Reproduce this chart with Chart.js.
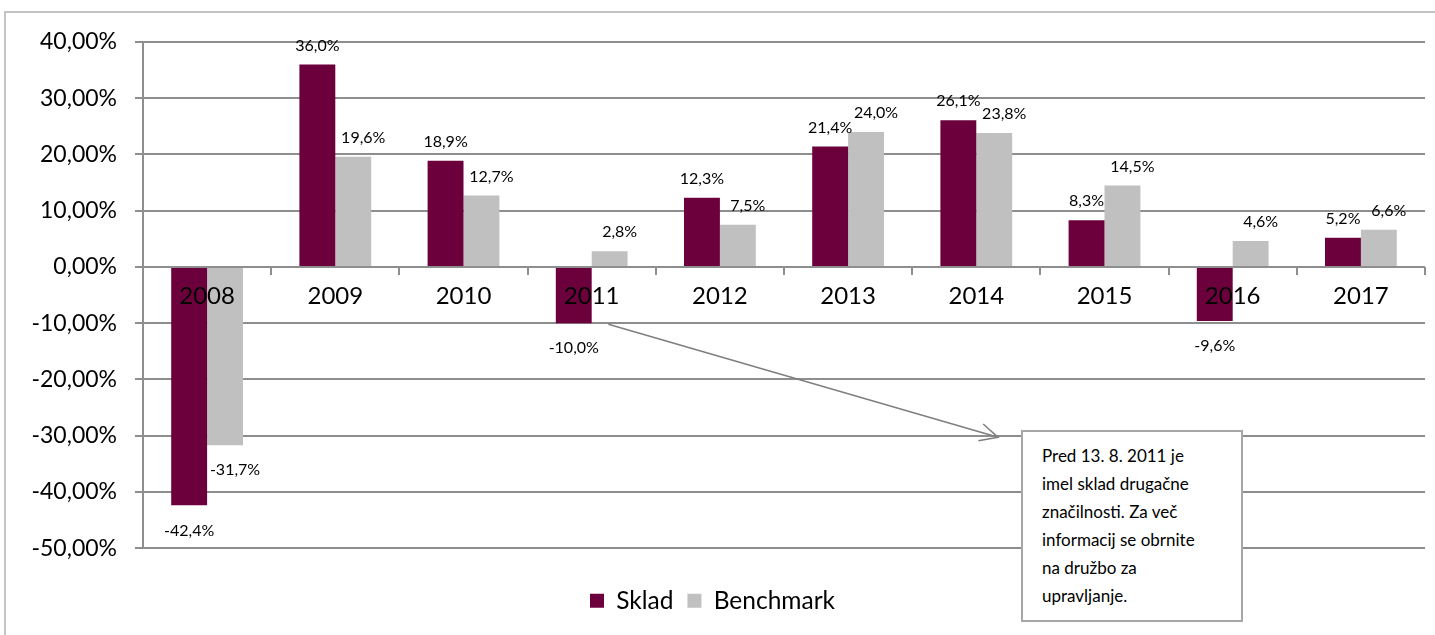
<!DOCTYPE html>
<html>
<head>
<meta charset="utf-8">
<script src="https://cdn.jsdelivr.net/npm/chart.js"></script>
<style>
  html, body { margin: 0; padding: 0; background: #fff; overflow: hidden; }
  #frame { position: absolute; left: 4px; top: 11px; width: 1440px; height: 640px; border: 2px solid #c4c4c4; }
  #wrap { position: absolute; left: 0; top: 0; width: 1435px; height: 635px; }
  #note {
    position: absolute; left: 1021px; top: 430px; width: 179px; height: 168px;
    border: 2px solid #a6a6a6; background: #fff;
    padding: 10px 20px 10px 19px;
    font-family: Lato, sans-serif; font-size: 17px; line-height: 28px; color: #000;
  }
</style>
</head>
<body>
<div id="frame"></div>
<div id="wrap"><canvas id="myChart" width="1435" height="635"></canvas></div>
<div id="note">Pred 13. 8. 2011 je<br>imel sklad drugačne<br>značilnosti. Za več<br>informacij se obrnite<br>na družbo za<br>upravljanje.</div>
<script>
const years = ["2008", "2009", "2010", "2011", "2012", "2013", "2014", "2015", "2016", "2017"];
const skladReturns = [-42.4, 36.0, 18.9, -10.0, 12.3, 21.4, 26.1, 8.3, -9.6, 5.2];
const benchmarkReturns = [-31.7, 19.6, 12.7, 2.8, 7.5, 24.0, 23.8, 14.5, 4.6, 6.6];
const yMin = -50;
const yMax = 40;
const yStep = 10;

const gridColor = "#8e8e8e";

// value labels above / below each bar
const barLabels = {
  id: "barLabels",
  afterDatasetsDraw(chart) {
    const c = chart.ctx;
    c.save();
    c.font = "16px Lato";
    c.fillStyle = "#000";
    c.textAlign = "center";
    c.textBaseline = "middle";
    chart.data.datasets.forEach((ds, di) => {
      chart.getDatasetMeta(di).data.forEach((bar, i) => {
        const v = ds.data[i];
        const txt = v.toFixed(1).replace(".", ",") + "%";
        const dx = di === 1 ? 10 : 0;
        const y = v >= 0 ? bar.y - 19 : bar.y + 25;
        c.fillText(txt, bar.x + dx, y);
      });
    });
    c.restore();
  }
};

// arrow pointing from the 2011 bar to the note
const noteArrow = {
  id: "noteArrow",
  afterDraw(chart) {
    const xs = chart.scales.x, ys = chart.scales.y;
    const x1 = xs.getPixelForValue(3.13), y1 = ys.getPixelForValue(-10.2);
    const x2 = xs.getPixelForValue(6.17), y2 = ys.getPixelForValue(-30.3);
    const a = Math.atan2(y2 - y1, x2 - x1);
    const c = chart.ctx;
    c.save();
    c.strokeStyle = "#7f7f7f";
    c.lineWidth = 1.5;
    c.beginPath();
    c.moveTo(x1, y1);
    c.lineTo(x2, y2);
    c.moveTo(x2 - 20 * Math.cos(a - 0.45), y2 - 20 * Math.sin(a - 0.45));
    c.lineTo(x2, y2);
    c.lineTo(x2 - 20 * Math.cos(a + 0.45), y2 - 20 * Math.sin(a + 0.45));
    c.stroke();
    c.restore();
  }
};

const ctx = document.getElementById("myChart");
new Chart(ctx, {
  type: "bar",
  data: {
    labels: years,
    datasets: [
      { label: "Sklad", data: skladReturns, backgroundColor: "#6b003c" },
      { label: "Benchmark", data: benchmarkReturns, backgroundColor: "#c0c0c0" },
    ],
  },
  options: {
    responsive: false,
    animation: false,
    barPercentage: 1,
    categoryPercentage: 0.56,
    layout: { padding: { left: 0, right: 10, top: 42, bottom: 12 } },
    scales: {
      x: {
        position: { y: 0 },
        grid: {
          offset: true,
          drawOnChartArea: false,
          drawTicks: true,
          tickLength: 8,
          color: gridColor,
          lineWidth: 2,
        },
        border: { display: false },
        ticks: { z: 1, font: { family: "Lato", size: 24 }, color: "#000", padding: 7 },
      },
      y: {
        min: yMin,
        max: yMax,
        afterFit(scale) { scale.width = 143; },
        grid: { color: gridColor, lineWidth: 2, tickLength: 8 },
        border: { color: gridColor, width: 2 },
        ticks: {
          stepSize: yStep,
          padding: 18,
          color: "#000",
          font: { family: "Lato", size: 23 },
          callback: (v) => v.toFixed(2).replace(".", ",") + "%",
        },
      },
    },
    plugins: {
      tooltip: { enabled: false },
      legend: {
        position: "bottom",
        title: { display: true, text: " ", padding: { top: 12, bottom: 0 }, font: { size: 12 } },
        labels: {
          boxWidth: 14,
          boxHeight: 14,
          padding: 14,
          color: "#000",
          font: { family: "Lato", size: 24.5 },
        },
      },
    },
  },
  plugins: [barLabels, noteArrow],
});
</script>
</body>
</html>
